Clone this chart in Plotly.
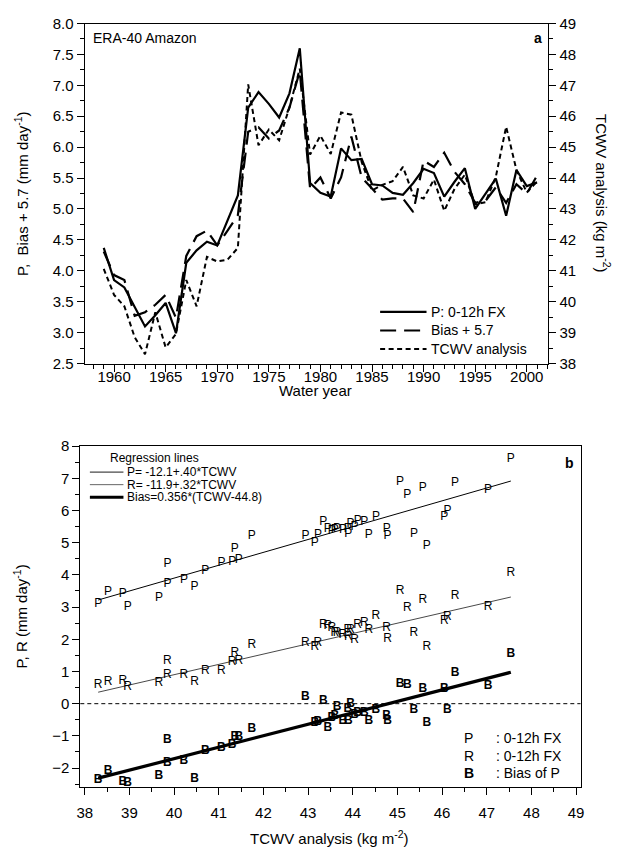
import plotly.graph_objects as go

# ---------------------------------------------------------------
# ERA-40 Amazon water-year statistics
# ---------------------------------------------------------------
years = [1958, 1959, 1960, 1961, 1962, 1963, 1964, 1965, 1966, 1967,
         1968, 1969, 1970, 1971, 1972, 1973, 1974, 1975, 1976, 1977,
         1978, 1979, 1980, 1981, 1982, 1983, 1984, 1985, 1986, 1987,
         1988, 1989, 1990, 1991, 1992, 1993, 1994, 1995, 1996, 1997,
         1998, 1999, 2000, 2001]

# TCWV analysis (kg m-2)
tcwv = [40.46, 41.06, 40.22, 39.85, 38.85, 38.30, 39.66, 38.52, 38.96, 40.70,
        39.85, 41.45, 41.30, 41.36, 41.74, 47.03, 45.06, 45.57, 45.22, 46.29,
        47.54, 44.76, 45.37, 44.78, 46.12, 46.05, 44.52, 43.60, 43.78, 43.90,
        44.36, 43.44, 43.34, 43.95, 42.94, 43.65, 44.11, 43.15, 43.22, 44.04,
        45.66, 44.26, 43.53, 43.89]

# P: 0-12h forecast precipitation (mm day-1)
precip = [3.61, 4.37, 3.85, 3.73, 3.42, 3.10, 3.28, 3.48, 2.99, 4.13,
          4.33, 4.47, 4.41, 4.81, 5.22, 6.64, 6.89, 6.70, 6.48, 6.87,
          7.60, 5.42, 5.26, 5.20, 5.98, 5.79, 5.81, 5.40, 5.38, 5.26,
          5.23, 5.42, 5.65, 5.58, 5.20, 5.44, 5.66, 5.00, 5.24, 5.49,
          4.89, 5.63, 5.37, 5.43]

# R: 0-12h forecast (mm day-1)
rfx = [0.67, 1.03, 0.89, 0.89, 0.70, 0.59, 0.64, 0.67, 0.52, 1.03,
       1.33, 1.33, 1.28, 1.58, 1.81, 3.00, 3.49, 3.23, 2.98, 3.33,
       4.07, 2.35, 2.19, 2.02, 2.70, 2.58, 2.72, 2.20, 2.13, 2.07,
       2.30, 2.42, 2.45, 2.30, 1.89, 2.19, 2.45, 1.77, 1.89, 1.99,
       1.77, 2.50, 2.36, 2.30]

# Bias of P (mm day-1)
bias = [-2.35, -1.39, -1.77, -1.85, -2.43, -2.37, -2.25, -2.09, -2.46, -1.46,
        -1.14, -1.05, -1.29, -1.05, -0.80, 0.55, 0.62, 0.44, 0.57, 0.94,
        1.53, -0.37, -0.19, -0.53, -0.19, 0.47, -0.19, -0.37, -0.55, -0.53,
        -0.53, -0.75, 0.08, -0.02, 0.21, -0.10, -0.30, -0.60, -0.57, -0.35,
        -0.60, -0.30, -0.45, -0.16]

bias_offset = 5.7
first_series_year = 1959

# Regression coefficients quoted in the legend of panel b
reg_p = (-12.1, 0.40)
reg_r = (-11.9, 0.32)
reg_bias = (0.356, 44.8)

W, H = 625, 855
FONT = "Liberation Sans, Arial, Helvetica, sans-serif"


def px(x):
    return x / W


def py(y):
    return 1 - y / H


fig = go.Figure()

# ---------------- panel a: time series ----------------
ts = [i for i, yr in enumerate(years) if yr >= first_series_year]
yr_ts = [years[i] for i in ts]
p_ts = [precip[i] for i in ts]
b_ts = [bias[i] + bias_offset for i in ts]
t_ts = [tcwv[i] for i in ts]

solid_style = dict(color="black", width=2.2)
long_style = dict(color="black", width=2.2, dash="16px,8px")
short_style = dict(color="black", width=2, dash="5px,3.5px")

fig.add_trace(go.Scatter(x=yr_ts, y=p_ts, mode="lines", xaxis="x", yaxis="y",
                         line=solid_style, showlegend=False))
fig.add_trace(go.Scatter(x=yr_ts, y=b_ts, mode="lines", xaxis="x", yaxis="y",
                         line=long_style, showlegend=False))
fig.add_trace(go.Scatter(x=yr_ts, y=t_ts, mode="lines", xaxis="x", yaxis="y2",
                         line=short_style, showlegend=False))

# ---------------- panel b: scatter of letters ----------------
t_min, t_max = min(tcwv), max(tcwv)

fig.add_trace(go.Scatter(x=[t_min, t_max],
                         y=[reg_p[0] + reg_p[1] * t for t in (t_min, t_max)],
                         mode="lines", xaxis="x3", yaxis="y3", showlegend=False,
                         line=dict(color="black", width=1)))
fig.add_trace(go.Scatter(x=[t_min, t_max],
                         y=[reg_r[0] + reg_r[1] * t for t in (t_min, t_max)],
                         mode="lines", xaxis="x3", yaxis="y3", showlegend=False,
                         line=dict(color="#333333", width=0.9)))
fig.add_trace(go.Scatter(x=[t_min, t_max],
                         y=[reg_bias[0] * (t - reg_bias[1]) for t in (t_min, t_max)],
                         mode="lines", xaxis="x3", yaxis="y3", showlegend=False,
                         line=dict(color="black", width=3.2)))

letter_font = dict(family=FONT, size=12, color="black")
fig.add_trace(go.Scatter(x=tcwv, y=precip, mode="text", text=["P"] * len(tcwv),
                         textfont=letter_font, xaxis="x3", yaxis="y3",
                         showlegend=False))
fig.add_trace(go.Scatter(x=tcwv, y=rfx, mode="text", text=["R"] * len(tcwv),
                         textfont=letter_font, xaxis="x3", yaxis="y3",
                         showlegend=False))
fig.add_trace(go.Scatter(x=tcwv, y=bias, mode="text", text=["<b>B</b>"] * len(tcwv),
                         textfont=letter_font, xaxis="x3", yaxis="y3",
                         showlegend=False))

# zero reference across the whole panel
fig.add_shape(type="line", xref="x3 domain", yref="y3", x0=0, x1=1, y0=0, y1=0,
              line=dict(color="black", width=1, dash="4px,3px"))

tickfont = dict(family=FONT, size=15, color="black")
axis_common = dict(showgrid=False, zeroline=False, linecolor="black", linewidth=1,
                   tickcolor="black", tickfont=tickfont, ticks="outside",
                   ticklen=7, tickwidth=1)

top_dom_x = [px(81.7), px(551.5)]
top_dom_y = [py(361.7), py(14.8)]
bot_dom_x = [px(77.3), px(584)]
bot_dom_y = [py(793.5), py(446)]

fig.update_layout(
    width=W, height=H,
    margin=dict(l=0, r=0, t=0, b=0),
    paper_bgcolor="white", plot_bgcolor="white",
    font=dict(family=FONT, color="black"),
    xaxis=dict(domain=top_dom_x, anchor="y", range=[1957.15, 2002.1],
               tickmode="linear", tick0=1960, dtick=5, showline=True, mirror=True,
               ticklabelstandoff=-8,
               minor=dict(dtick=1, tick0=1960, ticks="outside", ticklen=4,
                          tickcolor="black"),
               **axis_common),
    yaxis=dict(domain=top_dom_y, anchor="x", range=[2.5, 8.0],
               tickmode="linear", tick0=2.5, dtick=0.5, tickformat=".1f",
               showline=True, mirror=True,
               minor=dict(dtick=0.25, ticks="outside", ticklen=4, tickcolor="black"),
               **axis_common),
    yaxis2=dict(overlaying="y", side="right", anchor="x", range=[38, 49],
                tickmode="linear", tick0=38, dtick=1, showline=False,
                minor=dict(dtick=0.5, ticks="outside", ticklen=4, tickcolor="black"),
                **axis_common),
    xaxis3=dict(domain=bot_dom_x, anchor="y3", range=[37.9, 49.1],
                tickmode="linear", tick0=38, dtick=1, showline=True, mirror=True,
                ticklabelstandoff=5,
                minor=dict(dtick=0.5, ticks="outside", ticklen=4, tickcolor="black"),
                **axis_common),
    yaxis3=dict(domain=bot_dom_y, anchor="x3", range=[-2.58, 8.0],
                tickmode="linear", tick0=-2, dtick=1, showline=True, mirror=True,
                minor=dict(dtick=0.5, ticks="outside", ticklen=4, tickcolor="black"),
                **axis_common),
)

ann = []


def text(x, y, s, size=14, xanchor="center", yanchor="middle", angle=0):
    ann.append(dict(x=px(x), y=py(y), xref="paper", yref="paper", text=s,
                    showarrow=False, xanchor=xanchor, yanchor=yanchor,
                    textangle=angle, font=dict(family=FONT, size=size, color="black")))


# panel a labels
text(88, 30, "ERA-40 Amazon", 14, xanchor="left")
text(541, 30, "<b>a</b>", 14)
text(17, 188, "P,  Bias + 5.7 (mm day<sup>-1</sup>)", 15, angle=-90)
text(607, 188, "TCWV analysis (kg m<sup>-2</sup>)", 15, angle=90)
text(316, 389, "Water year", 15)

# panel a legend
legend_rows = [("P: 0-12h FX", solid_style),
               ("Bias + 5.7", long_style),
               ("TCWV analysis", short_style)]
for k, (label, style) in enumerate(legend_rows):
    yrow = 309 + 19 * k
    fig.add_shape(type="line", xref="paper", yref="paper",
                  x0=px(381), x1=px(428), y0=py(yrow), y1=py(yrow), line=style)
    text(431, yrow, label, 14, xanchor="left")

# panel b labels
text(17, 620, "P, R (mm day<sup>-1</sup>)", 15, angle=-90)
text(330, 845, "TCWV analysis (kg m<sup>-2</sup>)", 15)
text(573, 463, "<b>b</b>", 14)

text(105, 458, "Regression lines", 12, xanchor="left")
reg_rows = [("P= -12.1+.40*TCWV", dict(color="black", width=0.9)),
            ("R= -11.9+.32*TCWV", dict(color="#555555", width=0.9)),
            ("Bias=0.356*(TCWV-44.8)", dict(color="black", width=3))]
for k, (label, style) in enumerate(reg_rows):
    yrow = 472.5 + 12.8 * k
    fig.add_shape(type="line", xref="paper", yref="paper",
                  x0=px(87), x1=px(121), y0=py(yrow), y1=py(yrow), line=style)
    text(123, yrow, label, 12, xanchor="left")

key_rows = [("P", ": 0-12h FX"), ("R", ": 0-12h FX"), ("<b>B</b>", ": Bias of P")]
for k, (sym, label) in enumerate(key_rows):
    yrow = 744 + 18 * k
    text(471, yrow, sym, 14)
    text(496, yrow, label, 14, xanchor="left")

fig.update_layout(annotations=ann)
fig.write_html("out.html")
